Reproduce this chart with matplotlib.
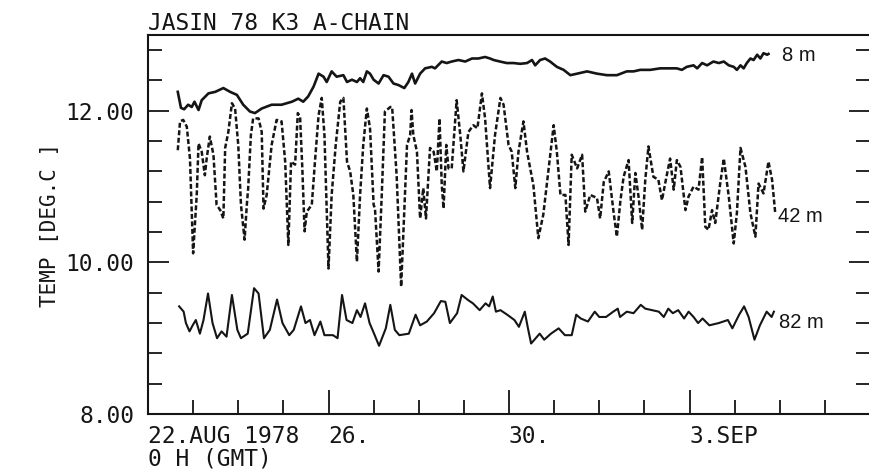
import matplotlib
matplotlib.use("Agg")
import matplotlib.pyplot as plt

# time in days after 22 Aug 1978 0 h GMT, temperature in deg C
t_8m = [0.66, 0.73, 0.80, 0.89, 0.97, 1.03, 1.12, 1.19, 1.34, 1.49, 1.67, 1.82, 1.97, 2.11,
        2.26, 2.37, 2.52, 2.74, 2.96, 3.19, 3.33, 3.44, 3.55, 3.67, 3.78, 3.89, 3.96, 4.07,
        4.18, 4.33, 4.41, 4.52, 4.63, 4.70, 4.77, 4.85, 4.92, 5.00, 5.11, 5.22, 5.33, 5.44,
        5.55, 5.68, 5.77, 5.85, 5.92, 6.03, 6.14, 6.29, 6.36, 6.51, 6.62, 6.73, 6.88, 7.03,
        7.18, 7.32, 7.47, 7.58, 7.66, 7.80, 7.95, 8.10, 8.25, 8.40, 8.51, 8.58, 8.69, 8.80,
        8.91, 9.06, 9.21, 9.36, 9.51, 9.73, 9.95, 10.17, 10.39, 10.61, 10.76, 10.91, 11.13,
        11.35, 11.57, 11.72, 11.83, 11.94, 12.09, 12.17, 12.28, 12.39, 12.53, 12.65, 12.76,
        12.87, 12.98, 13.05, 13.13, 13.20, 13.27, 13.35, 13.42, 13.50, 13.57, 13.64, 13.72,
        13.75]
temp_8m = [12.25, 12.04, 12.02, 12.08, 12.05, 12.12, 12.01, 12.14, 12.23, 12.25, 12.30, 12.25,
           12.21, 12.08, 11.99, 11.97, 12.03, 12.08, 12.08, 12.12, 12.16, 12.12, 12.19, 12.32,
           12.49, 12.45, 12.38, 12.52, 12.45, 12.47, 12.38, 12.41, 12.38, 12.43, 12.38, 12.52,
           12.49, 12.41, 12.36, 12.47, 12.45, 12.36, 12.34, 12.30, 12.38, 12.49, 12.36, 12.49,
           12.56, 12.58, 12.56, 12.65, 12.63, 12.65, 12.67, 12.65, 12.69, 12.69, 12.71, 12.69,
           12.67, 12.65, 12.63, 12.63, 12.62, 12.63, 12.67, 12.60, 12.67, 12.69, 12.65, 12.58,
           12.54, 12.47, 12.49, 12.52, 12.49, 12.47, 12.47, 12.52, 12.52, 12.54, 12.54, 12.56,
           12.56, 12.56, 12.54, 12.58, 12.60, 12.56, 12.63, 12.60, 12.65, 12.63, 12.65, 12.60,
           12.58, 12.54, 12.60, 12.56, 12.63, 12.69, 12.67, 12.74, 12.69, 12.76, 12.74, 12.75]

t_42m = [0.66, 0.71, 0.78, 0.86, 0.93, 1.00, 1.08, 1.12, 1.19, 1.26, 1.30, 1.37, 1.45, 1.52,
         1.60, 1.67, 1.71, 1.78, 1.86, 1.93, 2.00, 2.06, 2.14, 2.19, 2.22, 2.28, 2.33, 2.45,
         2.52, 2.56, 2.63, 2.74, 2.85, 2.96, 3.04, 3.11, 3.17, 3.26, 3.32, 3.37, 3.42, 3.47,
         3.52, 3.63, 3.70, 3.78, 3.85, 3.91, 4.00, 4.07, 4.16, 4.26, 4.33, 4.41, 4.48, 4.55,
         4.63, 4.70, 4.77, 4.85, 4.92, 5.00, 5.03, 5.11, 5.18, 5.25, 5.37, 5.41, 5.51, 5.61,
         5.74, 5.81, 5.84, 5.88, 5.96, 6.03, 6.10, 6.16, 6.25, 6.33, 6.40, 6.46, 6.51, 6.55,
         6.61, 6.66, 6.73, 6.84, 6.92, 6.99, 7.10, 7.21, 7.30, 7.40, 7.47, 7.58, 7.69, 7.81,
         7.88, 7.99, 8.06, 8.14, 8.21, 8.32, 8.40, 8.47, 8.54, 8.65, 8.76, 8.88, 8.99, 9.06,
         9.14, 9.25, 9.32, 9.39, 9.51, 9.62, 9.69, 9.80, 9.95, 10.02, 10.10, 10.21, 10.32,
         10.39, 10.47, 10.54, 10.65, 10.73, 10.80, 10.87, 10.95, 11.02, 11.09, 11.20, 11.31,
         11.39, 11.46, 11.57, 11.65, 11.72, 11.80, 11.91, 11.98, 12.09, 12.20, 12.28, 12.35,
         12.42, 12.50, 12.57, 12.68, 12.76, 12.87, 12.98, 13.05, 13.13, 13.24, 13.35, 13.46,
         13.53, 13.64, 13.75, 13.83, 13.90]
temp_42m = [11.48, 11.86, 11.88, 11.79, 11.37, 10.12, 10.89, 11.57, 11.46, 11.15, 11.37, 11.66,
            11.42, 10.76, 10.69, 10.58, 11.51, 11.72, 12.10, 12.03, 11.55, 10.76, 10.30, 10.76,
            10.98, 11.68, 11.90, 11.90, 11.72, 10.71, 10.89, 11.55, 11.88, 11.86, 11.33, 10.23,
            11.33, 11.29, 11.97, 11.92, 11.24, 10.41, 10.67, 10.76, 11.33, 11.94, 12.17, 11.68,
            9.92, 10.89, 11.55, 12.12, 12.17, 11.33, 11.20, 10.89, 10.01, 10.89, 11.55, 12.03,
            11.77, 10.76, 10.71, 9.88, 10.89, 11.99, 12.05, 12.05, 11.15, 9.68, 11.55, 11.68,
            12.01, 11.68, 11.46, 10.58, 10.98, 10.58, 11.51, 11.46, 11.20, 11.90, 11.02, 10.71,
            11.55, 11.24, 11.24, 12.14, 11.68, 11.20, 11.72, 11.81, 11.77, 12.23, 11.90, 10.98,
            11.68, 12.17, 12.08, 11.55, 11.46, 10.98, 11.46, 11.86, 11.46, 11.24, 11.02, 10.32,
            10.63, 11.24, 11.81, 11.46, 10.89, 10.89, 10.23, 11.42, 11.24, 11.42, 10.67, 10.89,
            10.85, 10.58, 11.06, 11.20, 10.65, 10.34, 10.82, 11.13, 11.35, 10.52, 11.18, 10.87,
            10.43, 11.09, 11.53, 11.13, 11.09, 10.82, 11.04, 11.37, 10.96, 11.35, 11.26, 10.69,
            10.87, 11.00, 10.96, 11.39, 10.47, 10.43, 10.69, 10.52, 11.04, 11.37, 10.87, 10.25,
            10.65, 11.51, 11.26, 10.65, 10.34, 11.04, 10.91, 11.33, 11.09, 10.65]

t_82m = [0.69, 0.79, 0.84, 0.92, 0.99, 1.06, 1.15, 1.23, 1.33, 1.43, 1.53, 1.63, 1.74, 1.86,
         1.98, 2.06, 2.21, 2.35, 2.45, 2.57, 2.70, 2.86, 2.98, 3.13, 3.23, 3.39, 3.49, 3.59,
         3.69, 3.82, 3.91, 4.10, 4.20, 4.30, 4.40, 4.53, 4.63, 4.71, 4.81, 4.91, 5.01, 5.12,
         5.27, 5.37, 5.47, 5.57, 5.78, 5.93, 6.03, 6.18, 6.34, 6.49, 6.59, 6.69, 6.85, 6.95,
         7.10, 7.20, 7.35, 7.48, 7.56, 7.64, 7.71, 7.81, 7.96, 8.12, 8.22, 8.35, 8.42, 8.49,
         8.68, 8.78, 8.93, 9.10, 9.24, 9.39, 9.49, 9.59, 9.75, 9.90, 10.00, 10.15, 10.31,
         10.41, 10.46, 10.61, 10.76, 10.92, 11.02, 11.17, 11.32, 11.43, 11.53, 11.63, 11.75,
         11.88, 11.98, 12.09, 12.19, 12.29, 12.44, 12.65, 12.85, 12.95, 13.10, 13.21, 13.31,
         13.44, 13.56, 13.71, 13.82, 13.87]
temp_82m = [9.42, 9.35, 9.20, 9.09, 9.17, 9.24, 9.06, 9.24, 9.59, 9.20, 9.00, 9.09, 9.02, 9.57,
            9.11, 9.00, 9.06, 9.66, 9.59, 9.00, 9.11, 9.51, 9.20, 9.04, 9.11, 9.42, 9.20, 9.24,
            9.04, 9.22, 9.04, 9.04, 9.00, 9.57, 9.24, 9.20, 9.37, 9.28, 9.46, 9.20, 9.06, 8.90,
            9.13, 9.44, 9.11, 9.04, 9.06, 9.31, 9.17, 9.22, 9.33, 9.49, 9.48, 9.20, 9.33, 9.57,
            9.50, 9.46, 9.37, 9.46, 9.42, 9.55, 9.35, 9.37, 9.31, 9.24, 9.15, 9.35, 9.13, 8.93,
            9.06, 8.98, 9.06, 9.13, 9.04, 9.04, 9.31, 9.26, 9.22, 9.35, 9.28, 9.28, 9.35, 9.39,
            9.28, 9.35, 9.33, 9.44, 9.39, 9.37, 9.35, 9.28, 9.39, 9.33, 9.37, 9.26, 9.35, 9.28,
            9.20, 9.26, 9.17, 9.20, 9.24, 9.13, 9.31, 9.42, 9.28, 8.98, 9.17, 9.35, 9.28, 9.35]

depth_labels = ["8 m", "42 m", "82 m"]
date_ticks = [0, 4, 8, 12]
date_labels = ["22.AUG 1978", "26.", "30.", "3.SEP"]

ink = "#151515"
mono = "DejaVu Sans Mono"

fig = plt.figure(figsize=(8.69, 4.69), dpi=100)
ax = fig.add_axes([148 / 869, 55 / 469, 722 / 869, 379 / 469])

ax.plot(t_8m, temp_8m, color=ink, lw=1.9, solid_joinstyle="round")
ax.plot(t_42m, temp_42m, color=ink, lw=1.8, linestyle=(0, (2.0, 1.0)))
ax.plot(t_82m, temp_82m, color=ink, lw=1.5, solid_joinstyle="round")

# depth labels next to the ends of the curves
lab = dict(fontsize=14.5, family="Liberation Sans", color=ink, va="baseline")
ax.text(14.04, 12.66, depth_labels[0], **lab)
ax.text(13.97, 10.53, depth_labels[1], **lab)
ax.text(13.98, 9.14, depth_labels[2], **lab)

ax.set_xlim(0, 16)
ax.set_ylim(8, 13)

ax.set_xticks(date_ticks)
ax.set_xticks([d for d in range(1, 16) if d % 4 != 0], minor=True)
ax.set_xticklabels(date_labels, family=mono, fontsize=16.5, color=ink, ha="left")
ax.set_yticks([8, 10, 12])
ax.set_yticklabels(["8.00", "10.00", "12.00"], family=mono, fontsize=16.5, color=ink)
ax.set_yticks([8 + 0.4 * i for i in range(13) if i % 5 != 0], minor=True)

ax.tick_params(axis="x", which="major", direction="in", length=17, width=1.3, pad=8,
               bottom=True, top=False, color=ink)
ax.tick_params(axis="x", which="minor", direction="in", length=10, width=1.3,
               bottom=True, top=False, color=ink)
ax.tick_params(axis="y", which="major", direction="in", length=15, width=1.3, pad=10,
               left=True, right=True, color=ink)
ax.tick_params(axis="y", which="minor", direction="in", length=10, width=1.3,
               left=True, right=True, color=ink)

for side in ["left", "top", "bottom"]:
    ax.spines[side].set_linewidth(1.5)
    ax.spines[side].set_color(ink)
ax.spines["right"].set_visible(False)

ax.set_ylabel("TEMP [DEG.C ]", family=mono, fontsize=15, color=ink, labelpad=4)

fig.text(148 / 869, 1 - 30 / 469, "JASIN 78 K3 A-CHAIN", family=mono, fontsize=16.5,
         color=ink, ha="left", va="baseline")
fig.text(148 / 869, 1 - 465 / 469, "0 H (GMT)", family=mono, fontsize=16.5,
         color=ink, ha="left", va="baseline")

fig.savefig("out.png", dpi=100, facecolor="white")
